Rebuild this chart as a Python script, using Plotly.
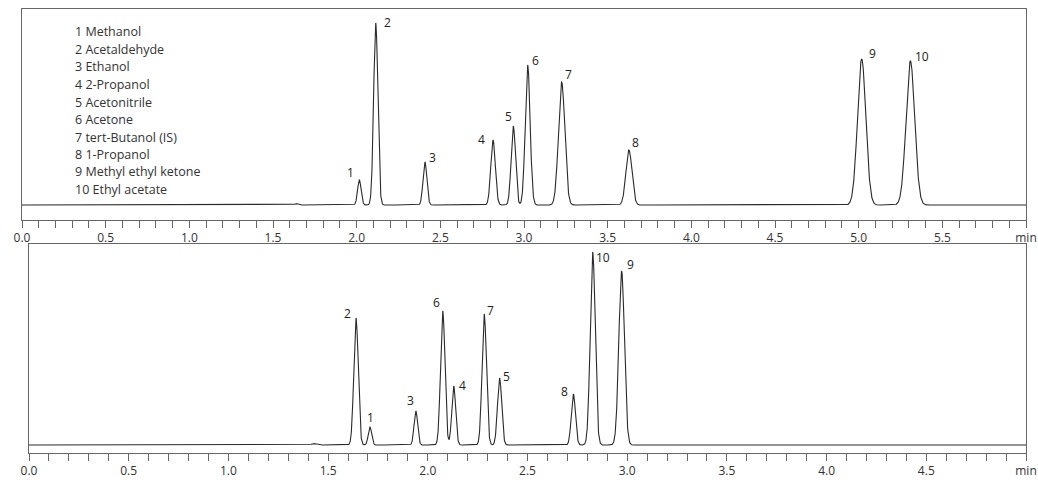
import numpy as np
import plotly.graph_objects as go

# ---------------- data ----------------
compounds = ["1 Methanol", "2 Acetaldehyde", "3 Ethanol", "4 2-Propanol", "5 Acetonitrile",
             "6 Acetone", "7 tert-Butanol (IS)", "8 1-Propanol", "9 Methyl ethyl ketone",
             "10 Ethyl acetate"]

# top chromatogram: peak number, retention time (min), height (rel.), width sigma (min)
top_peaks = ["1", "2", "3", "4", "5", "6", "7", "8", "9", "10"]
top_rt = [2.016, 2.114, 2.408, 2.815, 2.936, 3.022, 3.225, 3.627, 5.018, 5.309]
top_height = [25, 182, 43, 65, 79, 140, 123, 55, 146, 144]
top_sigma = [0.0105, 0.0125, 0.0115, 0.0135, 0.013, 0.0145, 0.019, 0.018, 0.025, 0.026]
top_minor_rt = [1.64]
top_minor_height = [1.5]
top_minor_sigma = [0.01]

# bottom chromatogram
bot_peaks = ["2", "1", "3", "6", "4", "7", "5", "8", "10", "9"]
bot_rt = [1.64, 1.71, 1.94, 2.075, 2.13, 2.283, 2.36, 2.73, 2.827, 2.972]
bot_height = [127, 18, 34, 134, 59, 131, 67, 51, 193, 174]
bot_sigma = [0.011, 0.0085, 0.009, 0.011, 0.0098, 0.011, 0.0105, 0.0105, 0.0125, 0.014]
bot_minor_rt = [1.43]
bot_minor_height = [1.5]
bot_minor_sigma = [0.012]

top_range = [0, 6.0]
bot_range = [0, 5.0]


def trace_from_peaks(t, rts, hs, ss):
    y = np.zeros_like(t)
    for r, h, s in zip(rts, hs, ss):
        y += h * np.exp(-0.5 * ((t - r) / s) ** 2)
    return y


t_top = np.linspace(top_range[0], top_range[1], 6001)
y_top = trace_from_peaks(t_top, top_rt + top_minor_rt, top_height + top_minor_height,
                         top_sigma + top_minor_sigma)
t_bot = np.linspace(bot_range[0], bot_range[1], 5001)
y_bot = trace_from_peaks(t_bot, bot_rt + bot_minor_rt, bot_height + bot_minor_height,
                         bot_sigma + bot_minor_sigma)

# ---------------- figure ----------------
W, H = 1038, 482
fig = go.Figure()
fig.add_trace(go.Scatter(x=t_top, y=y_top, mode="lines", line=dict(color="#2a2a2a", width=1.1),
                         xaxis="x", yaxis="y", hoverinfo="skip"))
fig.add_trace(go.Scatter(x=t_bot, y=y_bot, mode="lines", line=dict(color="#2a2a2a", width=1.1),
                         xaxis="x2", yaxis="y2", hoverinfo="skip"))


def px_dom_x(a, b):
    return [a / W, b / W]


def px_dom_y(top, bottom):
    return [(H - bottom) / H, (H - top) / H]


def ticks(rng):
    n = int(round(rng[1] * 10))
    vals = [i / 10 for i in range(n + 1)]
    text = []
    for i in range(n + 1):
        if i == n:
            text.append("min")
        elif i % 5 == 0:
            text.append(f"{i/10:.1f}")
        else:
            text.append("")
    return vals, text


tv1, tt1 = ticks(top_range)
tv2, tt2 = ticks(bot_range)

axis_common = dict(showline=True, linecolor="#666", linewidth=1, mirror=True,
                   ticks="outside", ticklen=7, tickcolor="#666", showgrid=False,
                   zeroline=False, tickfont=dict(family="Open Sans", size=12, color="#333"),
                   tickangle=0, fixedrange=True, automargin=False)
yaxis_common = dict(showticklabels=False, showline=True, linecolor="#666", linewidth=1,
                    mirror=True, ticks="", showgrid=False, zeroline=False,
                    fixedrange=True, automargin=False)

fig.update_layout(
    template="none",
    width=W, height=H, margin=dict(l=0, r=0, t=0, b=0, pad=0, autoexpand=False),
    paper_bgcolor="white", plot_bgcolor="white", showlegend=False,
    xaxis=dict(domain=px_dom_x(22, 1026), range=top_range, tickmode="array",
               tickvals=tv1, ticktext=tt1, anchor="y", **axis_common),
    yaxis=dict(domain=px_dom_y(9, 220), range=[-15, 196], anchor="x", **yaxis_common),
    xaxis2=dict(domain=px_dom_x(29, 1026), range=bot_range, tickmode="array",
                tickvals=tv2, ticktext=tt2, anchor="y2", **axis_common),
    yaxis2=dict(domain=px_dom_y(244, 453), range=[-8, 201], anchor="x2", **yaxis_common),
)

# peak label offsets (pixels, relative to apex)
top_off = {"1": (-9, 8), "2": (12, 1), "3": (8, 5), "4": (-12, 1), "5": (-5, 10),
           "6": (8, 5), "7": (7, 8), "8": (7, 8), "9": (11, 6), "10": (12, 5)}
bot_off = {"2": (-9, 5), "1": (1, 10), "3": (-5, 11), "6": (-6, 9), "4": (9, 1),
           "7": (6, 4), "5": (7, 2), "8": (-9, 3), "10": (10, -5), "9": (9, 7)}

lab_font = dict(family="Open Sans", size=12, color="#222")
for p, r, h in zip(top_peaks, top_rt, top_height):
    dx, dy = top_off[p]
    fig.add_annotation(x=r, y=h, xref="x", yref="y", text=p, showarrow=False,
                       xshift=dx, yshift=dy, font=lab_font)
for p, r, h in zip(bot_peaks, bot_rt, bot_height):
    dx, dy = bot_off[p]
    fig.add_annotation(x=r, y=h, xref="x2", yref="y2", text=p, showarrow=False,
                       xshift=dx, yshift=dy, font=lab_font)

# compound list
for i, name in enumerate(compounds):
    fig.add_annotation(x=73 / W, y=(H - (32 + i * 17.5)) / H, xref="paper", yref="paper",
                       text=name, showarrow=False, xanchor="left", yanchor="middle",
                       font=dict(family="Open Sans", size=12.5, color="#333"))

fig.write_html("out.html", config={"displayModeBar": False},
               post_script="document.body.style.margin='0';")
